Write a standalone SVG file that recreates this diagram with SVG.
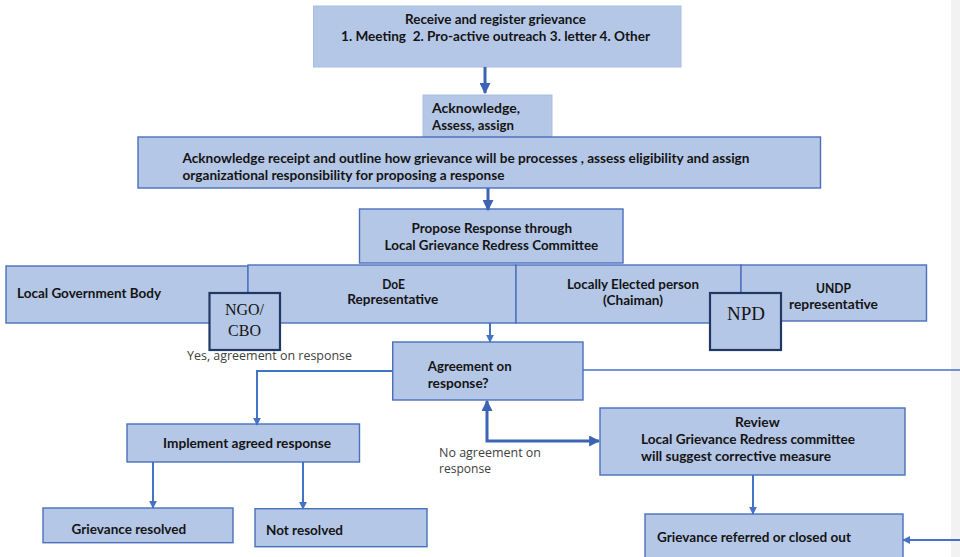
<svg xmlns="http://www.w3.org/2000/svg" width="960" height="557" viewBox="0 0 960 557">
<style>
.box{fill:#b4c7e7;stroke:#4a70bd;stroke-width:1.4}
.pale{fill:#b4c7e7;stroke:#a9bde3;stroke-width:1}
.dark{fill:#b4c7e7;stroke:#1f3864;stroke-width:2.2}
.t{font-family:Lato,"Liberation Sans",sans-serif;font-weight:700;font-size:14px;fill:#141414}
.r{font-family:"Open Sans","Liberation Sans",sans-serif;font-size:12px;fill:#404040}
.s{font-family:"Liberation Serif","Times New Roman",serif;fill:#141414;text-anchor:middle}
.c{fill:none;stroke:#4472c4;stroke-width:2}
.thick{fill:none;stroke:#3c63b4;stroke-width:3}
.thin{fill:none;stroke:#4472c4;stroke-width:1.6}
</style>
<defs>
<marker id="ah" viewBox="0 0 10 10" refX="9" refY="5" markerWidth="8" markerHeight="8" markerUnits="userSpaceOnUse" orient="auto-start-reverse"><path d="M0,0 L10,5 L0,10 Z" fill="#4472c4"/></marker>
<marker id="ahb" viewBox="0 0 10 10" refX="9" refY="5" markerWidth="11" markerHeight="11" markerUnits="userSpaceOnUse" orient="auto-start-reverse"><path d="M0,0 L10,5 L0,10 Z" fill="#3c63b4"/></marker>
</defs>
<rect x="0" y="0" width="960" height="557" fill="#ffffff"/>
<rect x="951" y="0" width="9" height="557" fill="#f2f2f2"/>
<g id="receive"><rect class="pale" x="313.5" y="6" width="367.5" height="61"/>
<text class="t" x="405" y="24" textLength="181" lengthAdjust="spacingAndGlyphs">Receive and register grievance</text>
<text class="t" x="341" y="41" textLength="309" lengthAdjust="spacingAndGlyphs" style="white-space:pre">1. Meeting  2. Pro-active outreach 3. letter 4. Other</text></g>
<g id="ack"><rect class="pale" x="423" y="95" width="129" height="42"/>
<text class="t" x="432" y="113" textLength="88" lengthAdjust="spacingAndGlyphs">Acknowledge,</text>
<text class="t" x="432" y="130" textLength="82" lengthAdjust="spacingAndGlyphs">Assess, assign</text></g>
<g id="outline"><rect class="box" x="138" y="137" width="682.5" height="51"/>
<text class="t" x="182.5" y="163" textLength="567" lengthAdjust="spacingAndGlyphs">Acknowledge receipt and outline how grievance will be processes , assess eligibility and assign</text>
<text class="t" x="182.5" y="180" textLength="322" lengthAdjust="spacingAndGlyphs">organizational responsibility for proposing a response</text></g>
<g id="propose"><rect class="box" x="359.5" y="209" width="263.5" height="54"/>
<text class="t" x="411.5" y="232.5" textLength="160.5" lengthAdjust="spacingAndGlyphs">Propose Response through</text>
<text class="t" x="384.6" y="250" textLength="213.7" lengthAdjust="spacingAndGlyphs">Local Grievance Redress Committee</text></g>
<g id="localgov"><rect class="box" x="6" y="266" width="242" height="57"/>
<text class="t" x="17" y="298" textLength="144" lengthAdjust="spacingAndGlyphs">Local Government Body</text></g>
<g id="doe"><rect class="box" x="248" y="265" width="268" height="58"/>
<text class="t" x="382.3" y="288.5" textLength="22.7" lengthAdjust="spacingAndGlyphs">DoE</text>
<text class="t" x="347.3" y="304" textLength="91" lengthAdjust="spacingAndGlyphs">Representative</text></g>
<g id="elected"><rect class="box" x="516" y="265" width="225" height="58"/>
<text class="t" x="567" y="288.5" textLength="132" lengthAdjust="spacingAndGlyphs">Locally Elected person</text>
<text class="t" x="603" y="304.5" textLength="60" lengthAdjust="spacingAndGlyphs">(Chaiman)</text></g>
<g id="undp"><rect class="box" x="741" y="265" width="185.5" height="56"/>
<text class="t" x="816" y="292.5" textLength="35" lengthAdjust="spacingAndGlyphs">UNDP</text>
<text class="t" x="789" y="309" textLength="89" lengthAdjust="spacingAndGlyphs">representative</text></g>
<g id="ngo"><rect class="dark" x="209.5" y="293" width="70.5" height="57"/>
<text class="s" x="244.5" y="315" font-size="16">NGO/</text>
<text class="s" x="244.5" y="335.5" font-size="16">CBO</text></g>
<g id="npd"><rect class="dark" x="710" y="293" width="71" height="57"/>
<text class="s" x="746" y="320" font-size="19">NPD</text></g>
<g id="agreement"><rect class="box" x="392.7" y="342" width="190.3" height="58"/>
<text class="t" x="427.7" y="371" textLength="84" lengthAdjust="spacingAndGlyphs">Agreement on</text>
<text class="t" x="427.7" y="388" textLength="61" lengthAdjust="spacingAndGlyphs">response?</text></g>
<g id="implement"><rect class="box" x="127" y="424" width="232.5" height="38"/>
<text class="t" x="163" y="448" textLength="168" lengthAdjust="spacingAndGlyphs">Implement agreed response</text></g>
<g id="resolved"><rect class="box" x="43" y="508" width="190" height="34.7"/>
<text class="t" x="71.6" y="533.5" textLength="114.5" lengthAdjust="spacingAndGlyphs">Grievance resolved</text></g>
<g id="notresolved"><rect class="box" x="255" y="508.7" width="172" height="38"/>
<text class="t" x="266" y="534.5" textLength="77" lengthAdjust="spacingAndGlyphs">Not resolved</text></g>
<g id="review"><rect class="box" x="600" y="408" width="305" height="67"/>
<text class="t" x="735" y="427" textLength="44.7" lengthAdjust="spacingAndGlyphs">Review</text>
<text class="t" x="641" y="444" textLength="214" lengthAdjust="spacingAndGlyphs">Local Grievance Redress committee</text>
<text class="t" x="641" y="461" textLength="190" lengthAdjust="spacingAndGlyphs">will suggest corrective measure</text></g>
<g id="referred"><rect class="box" x="645" y="514" width="258" height="51"/>
<text class="t" x="657" y="541.5" textLength="194" lengthAdjust="spacingAndGlyphs">Grievance referred or closed out</text></g>
<g id="labels">
<text class="r" x="187" y="360" textLength="165" lengthAdjust="spacingAndGlyphs">Yes, agreement on response</text>
<text class="r" x="439" y="456.5" textLength="102" lengthAdjust="spacingAndGlyphs">No agreement on</text>
<text class="r" x="439" y="473" textLength="52" lengthAdjust="spacingAndGlyphs">response</text>
</g>
<g id="connectors">
<path class="thick" d="M485,67 V93" marker-end="url(#ahb)"/>
<path class="thick" d="M488,188 V210" marker-end="url(#ahb)"/>
<path class="c" d="M490,323 V342" marker-end="url(#ah)"/>
<path class="c" d="M392.7,371 H257 V425" marker-end="url(#ah)"/>
<path class="thin" d="M583,370 H960"/>
<path class="thick" d="M487,401 V441 H599" marker-start="url(#ahb)" marker-end="url(#ahb)"/>
<path class="c" d="M153,462 V508" marker-end="url(#ah)"/>
<path class="c" d="M303,462 V509" marker-end="url(#ah)"/>
<path class="c" d="M753,475 V514" marker-end="url(#ah)"/>
<path class="c" d="M960,540 H903" marker-end="url(#ah)"/>
</g>
</svg>
